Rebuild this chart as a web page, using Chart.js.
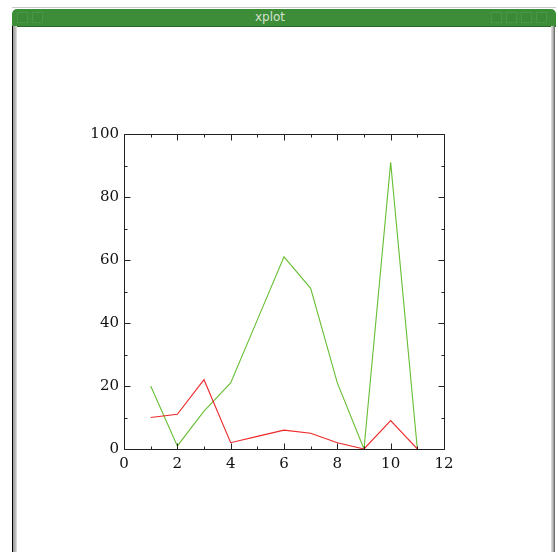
<!DOCTYPE html>
<html>
<head>
<meta charset="utf-8">
<script src="https://cdn.jsdelivr.net/npm/chart.js@4"></script>
<style>
  html, body { margin: 0; padding: 0; background: #ffffff; }
  #page { position: relative; width: 558px; height: 552px; overflow: hidden; background: #fff; }
  #topline { position: absolute; left: 12px; top: 7px; width: 544px; height: 1px; background: #c8c8c8; }
  #titlebar { position: absolute; left: 12px; top: 9px; width: 544px; height: 18px; background: #3d8c38;
              border-radius: 5px 5px 0 0; border-bottom: 1px solid #2a6a26; box-sizing: border-box; }
  #title { position: absolute; left: 0; top: 9px; width: 540px; text-align: center; color: #d4e2d0;
           font: 12px "DejaVu Sans", sans-serif; line-height: 17px; }
  .btn { position: absolute; top: 12px; width: 11px; height: 11px; border: 1px solid #48964a; box-sizing: border-box; background: #3b8a36; }
  #leftborder { position: absolute; left: 12px; top: 26px; width: 5px; height: 526px;
                background: linear-gradient(to right, #000 0, #000 1px, #9a9a9a 1px, #c4c4c4 4px, #e8e8e8 5px); }
  #rightborder { position: absolute; left: 551px; top: 26px; width: 4px; height: 526px;
                 background: linear-gradient(to right, #e0e0e0 0, #b8b8b8 2px, #8a8a8a 3px, #555 4px); }
  #wrap { position: absolute; left: 0; top: 0; width: 558px; height: 552px; }
</style>
</head>
<body>
<div id="page">
  <div id="topline"></div>
  <div id="titlebar"></div>
  <div id="title">xplot</div>
  <div class="btn" style="left:17px"></div>
  <div class="btn" style="left:32px"></div>
  <div class="btn" style="left:491px"></div>
  <div class="btn" style="left:506px"></div>
  <div class="btn" style="left:521px"></div>
  <div class="btn" style="left:536px"></div>
  <div id="leftborder"></div>
  <div id="rightborder"></div>
  <div id="wrap"><canvas id="c" width="558" height="552"></canvas></div>
</div>
<script>
// ---- data ----
const xValues = [1, 2, 3, 4, 5, 6, 7, 8, 9, 10, 11];
const greenSeries = [20, 1, 12, 21, 41, 61, 51, 21, 0, 91, 0];
const redSeries = [10, 11, 22, 2, 4, 6, 5, 2, 0, 9, 0];
const xTicks = [0, 2, 4, 6, 8, 10, 12];
const yTicks = [0, 20, 40, 60, 80, 100];

const toPoints = (ys) => xValues.map((x, i) => ({ x: x, y: ys[i] }));

const boxTicks = {
  id: 'boxTicks',
  afterDatasetsDraw(chart) {
    const { ctx, chartArea, scales } = chart;
    const { left, right, top, bottom } = chartArea;
    const xs = scales.x, ys = scales.y;
    ctx.save();
    ctx.strokeStyle = '#222';
    ctx.lineWidth = 1;
    const L = Math.round(left) + 0.5, R = Math.round(right) + 0.5;
    const T = Math.round(top) + 0.5, B = Math.round(bottom) + 0.5;
    ctx.beginPath();
    ctx.rect(L, T, R - L, B - T);
    ctx.stroke();
    ctx.beginPath();
    for (let v = xs.min; v <= xs.max; v += 1) {
      const px = Math.round(xs.getPixelForValue(v)) + 0.5;
      const len = (v % 2 === 0) ? 6 : 3;
      ctx.moveTo(px, B); ctx.lineTo(px, B - len);
      ctx.moveTo(px, T); ctx.lineTo(px, T + len);
    }
    for (let v = ys.min; v <= ys.max; v += 10) {
      const py = Math.round(ys.getPixelForValue(v)) + 0.5;
      const len = (v % 20 === 0) ? 6 : 3;
      ctx.moveTo(L, py); ctx.lineTo(L + len, py);
      ctx.moveTo(R, py); ctx.lineTo(R - len, py);
    }
    ctx.stroke();
    ctx.restore();
  }
};

const tickFont = { family: '"DejaVu Serif", "Liberation Serif", serif', size: 15 };

new Chart(document.getElementById('c'), {
  type: 'line',
  data: {
    datasets: [
      { label: 'red', data: toPoints(redSeries), borderColor: 'rgb(238,40,40)', borderWidth: 1.1,
        pointRadius: 0, tension: 0, fill: false },
      { label: 'green', data: toPoints(greenSeries), borderColor: 'rgb(102,190,50)', borderWidth: 1.1,
        pointRadius: 0, tension: 0, fill: false }
    ]
  },
  options: {
    responsive: false,
    animation: false,
    events: [],
    layout: { padding: { left: 0, top: 134, right: 114, bottom: 72 } },
    plugins: { legend: { display: false }, tooltip: { enabled: false }, title: { display: false } },
    scales: {
      x: {
        type: 'linear', min: 0, max: 12,
        afterBuildTicks: (s) => { s.ticks = xTicks.map(v => ({ value: v })); },
        afterFit: (s) => { s.height = 31; },
        grid: { display: false, drawTicks: false },
        border: { display: false },
        ticks: { color: '#111', font: tickFont, padding: 6, maxRotation: 0, autoSkip: false }
      },
      y: {
        type: 'linear', min: 0, max: 100,
        afterBuildTicks: (s) => { s.ticks = yTicks.map(v => ({ value: v })); },
        afterFit: (s) => { s.width = 124; },
        grid: { display: false, drawTicks: false },
        border: { display: false },
        ticks: { color: '#111', font: tickFont, padding: 5, autoSkip: false }
      }
    }
  },
  plugins: [boxTicks]
});
</script>
</body>
</html>
